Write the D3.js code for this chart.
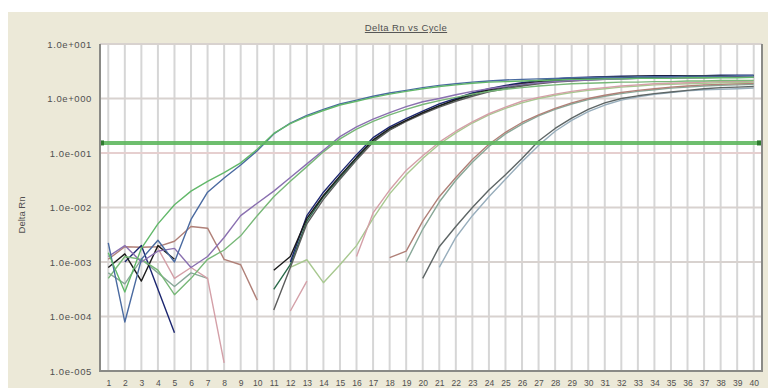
<html>
    <head>
        <script src="https://d3js.org/d3.v7.min.js"></script>
        <style>
        body {
            margin: 0;
            background: #ffffff;
        }
        text {
            font-family: "Liberation Sans", Arial, sans-serif;
            fill: #505050;
        }
        </style>
    </head>
    <body>
        <svg id="chart" width="768" height="388"></svg>
        <script>
            // cycle numbers on the x axis
            const cycles = [1, 2, 3, 4, 5, 6, 7, 8, 9, 10,
                11, 12, 13, 14, 15, 16, 17, 18, 19, 20,
                21, 22, 23, 24, 25, 26, 27, 28, 29, 30,
                31, 32, 33, 34, 35, 36, 37, 38, 39, 40];

            const yTicks = [1e1, 1e0, 1e-1, 1e-2, 1e-3, 1e-4, 1e-5];
            const yTickLabels = ["1.0e+001", "1.0e+000", "1.0e-001", "1.0e-002", "1.0e-003", "1.0e-004", "1.0e-005"];

            const threshold = 0.153;

            // Delta Rn per cycle, null where nothing is drawn
            const green1 = [1.48e-3, 2.82e-4, 1.78e-3, 5.0e-3, 1.12e-2, 2.0e-2, 3.02e-2, 4.37e-2, 6.6e-2, 0.117,
                0.229, 0.347, 0.468, 0.603, 0.759, 0.891, 1.05, 1.20, 1.35, 1.51,
                1.66, 1.78, 1.91, 2.00, 2.04, 2.09, 2.14, 2.19, 2.24, 2.24,
                2.29, 2.29, 2.34, 2.34, 2.34, 2.40, 2.40, 2.40, 2.40, 2.45];
            const blue1 = [2.24e-3, 7.94e-5, 1.12e-3, 2.51e-3, 1.0e-3, 6.03e-3, 1.91e-2, 3.47e-2, 6.03e-2, 0.110,
                0.224, 0.355, 0.490, 0.631, 0.794, 0.933, 1.10, 1.26, 1.41, 1.58,
                1.74, 1.86, 2.00, 2.09, 2.19, 2.24, 2.29, 2.34, 2.40, 2.40,
                2.45, 2.45, 2.51, 2.51, 2.51, 2.57, 2.57, 2.57, 2.63, 2.63];
            const purple2 = [1.26e-3, 2.0e-3, 1.0e-3, 1.58e-3, 1.78e-3, 7.94e-4, 1.26e-3, 2.82e-3, 7.08e-3, 1.20e-2,
                2.0e-2, 3.55e-2, 6.31e-2, 0.112, 0.200, 0.302, 0.417, 0.550, 0.708, 0.871,
                1.00, 1.17, 1.35, 1.51, 1.66, 1.82, 1.95, 2.04, 2.14, 2.19,
                2.24, 2.29, 2.34, 2.34, 2.40, 2.40, 2.45, 2.45, 2.45, 2.51];
            const green2 = [5.01e-4, 1.26e-3, 1.12e-3, 7.08e-4, 2.51e-4, 5.01e-4, 1.12e-3, 1.66e-3, 3.02e-3, 7.08e-3,
                1.58e-2, 3.02e-2, 5.62e-2, 0.105, 0.182, 0.275, 0.380, 0.501, 0.631, 0.776,
                0.912, 1.05, 1.20, 1.35, 1.48, 1.58, 1.70, 1.78, 1.86, 1.91,
                1.95, 2.00, 2.00, 2.04, 2.04, 2.09, 2.09, 2.14, 2.14, 2.14];
            const black3 = [7.94e-4, 1.41e-3, 4.47e-4, 2.0e-3, 1.12e-3, null, null, null, null, null,
                7.08e-4, 1.26e-3, 6.31e-3, 1.66e-2, 3.80e-2, 8.32e-2, 0.174, 0.282, 0.398, 0.550,
                0.741, 0.955, 1.20, 1.45, 1.66, 1.86, 2.04, 2.19, 2.29, 2.40,
                2.45, 2.51, 2.57, 2.57, 2.57, 2.63, 2.63, 2.63, 2.63, 2.63];
            const grey3 = [null, null, null, null, null, null, null, null, null, null,
                1.32e-4, 7.94e-4, 5.01e-3, 1.41e-2, 3.31e-2, 7.41e-2, 0.158, 0.263, 0.380, 0.525,
                0.692, 0.891, 1.10, 1.32, 1.51, 1.70, 1.86, 2.00, 2.09, 2.19,
                2.24, 2.29, 2.34, 2.34, 2.40, 2.40, 2.40, 2.45, 2.45, 2.45];
            const navy3 = [null, 1.0e-3, 2.0e-3, 3.16e-4, 5.01e-5, null, null, null, null, null,
                null, 1.0e-3, 7.08e-3, 1.91e-2, 4.27e-2, 9.33e-2, 0.191, 0.302, 0.427, 0.589,
                0.794, 1.00, 1.26, 1.51, 1.74, 1.95, 2.14, 2.29, 2.40, 2.45,
                2.51, 2.57, 2.57, 2.63, 2.63, 2.63, 2.63, 2.69, 2.69, 2.69];
            const darkGreen3 = [null, null, null, null, null, null, null, null, null, null,
                3.16e-4, 8.91e-4, 5.62e-3, 1.58e-2, 3.55e-2, 7.94e-2, 0.166, 0.269, 0.389, 0.537,
                0.724, 0.933, 1.15, 1.38, 1.58, 1.78, 1.95, 2.09, 2.19, 2.29,
                2.34, 2.40, 2.40, 2.45, 2.45, 2.51, 2.51, 2.51, 2.51, 2.57];
            const pink4 = [null, null, null, 1.78e-3, 5.01e-4, 7.94e-4, 5.01e-4, 1.41e-5, null, null,
                null, 1.26e-4, 4.47e-4, null, null, 1.26e-3, 7.94e-3, 2.09e-2, 4.79e-2, 8.91e-2,
                0.158, 0.251, 0.372, 0.525, 0.692, 0.891, 1.05, 1.20, 1.35, 1.48,
                1.58, 1.70, 1.78, 1.86, 1.91, 1.95, 2.00, 2.04, 2.04, 2.09];
            const green4 = [null, null, null, null, null, null, null, null, null, null,
                null, 7.94e-4, 1.10e-3, 4.17e-4, 8.91e-4, 2.0e-3, 6.31e-3, 1.78e-2, 3.98e-2, 7.94e-2,
                0.145, 0.234, 0.355, 0.501, 0.661, 0.832, 1.00, 1.15, 1.29, 1.41,
                1.51, 1.62, 1.70, 1.78, 1.82, 1.86, 1.91, 1.95, 1.95, 2.00];
            const brown5 = [1.12e-3, 1.91e-3, 1.86e-3, 1.91e-3, 2.40e-3, 4.47e-3, 4.17e-3, 1.12e-3, 8.91e-4, 2.0e-4,
                null, null, null, null, null, null, null, 1.20e-3, 1.58e-3, 5.62e-3,
                1.58e-2, 3.55e-2, 7.59e-2, 0.145, 0.240, 0.363, 0.501, 0.661, 0.832, 1.00,
                1.15, 1.29, 1.41, 1.51, 1.62, 1.70, 1.78, 1.82, 1.86, 1.91];
            const greyGreen5 = [6.31e-4, 3.98e-4, 1.12e-3, 6.31e-4, 3.55e-4, 6.31e-4, 5.01e-4, null, null, null,
                null, null, null, null, null, null, null, null, 1.0e-3, 3.98e-3,
                1.26e-2, 3.16e-2, 6.76e-2, 0.132, 0.224, 0.339, 0.479, 0.631, 0.794, 0.955,
                1.10, 1.23, 1.35, 1.45, 1.55, 1.62, 1.70, 1.74, 1.78, 1.82];
            const darkGrey6 = [null, null, null, null, null, null, null, null, null, null,
                null, null, null, null, null, null, null, null, null, 5.01e-4,
                1.91e-3, 4.47e-3, 1.0e-2, 2.09e-2, 3.98e-2, 7.94e-2, 0.166, 0.282, 0.437, 0.631,
                0.832, 1.00, 1.12, 1.23, 1.32, 1.41, 1.51, 1.58, 1.62, 1.66];
            const blueGrey6 = [null, null, null, null, null, null, null, null, null, null,
                null, null, null, null, null, null, null, null, null, null,
                7.94e-4, 2.82e-3, 7.08e-3, 1.58e-2, 3.31e-2, 6.92e-2, 0.138, 0.251, 0.398, 0.575,
                0.759, 0.933, 1.07, 1.20, 1.29, 1.38, 1.45, 1.48, 1.51, 1.55];

            const series = [blueGrey6, darkGrey6, greyGreen5, brown5, green4, pink4,
                darkGreen3, grey3, navy3, black3, green2, purple2, blue1, green1];
            const colors = ["#98aebc", "#5e6666", "#88a898", "#b08078", "#a8c890", "#d4a0a8",
                "#2a6a4a", "#5c5c5c", "#1c2670", "#1a1a1a", "#78b878", "#8a70b0", "#4a6aa0", "#62b86a"];

            const svg = d3.select('svg#chart');
            const width = +svg.attr('width');
            const height = +svg.attr('height');
            const plot = {left: 100, right: 762, top: 44, bottom: 371};

            // beige panel behind everything
            svg.append('rect')
                .attr('x', 8).attr('y', 12)
                .attr('width', width - 8).attr('height', height - 12)
                .attr('fill', '#ece9d8');

            svg.append('rect')
                .attr('x', plot.left).attr('y', plot.top)
                .attr('width', plot.right - plot.left).attr('height', plot.bottom - plot.top)
                .attr('fill', '#ffffff');

            const xScale = d3.scaleLinear().domain([0.5, 40.5]).range([plot.left, plot.right]);
            const yScale = d3.scaleLog().domain([1e-5, 1e1]).range([plot.bottom, plot.top]);

            // grid
            svg.append('g').selectAll('line')
                .data(cycles)
                .join('line')
                .attr('x1', d => xScale(d)).attr('x2', d => xScale(d))
                .attr('y1', plot.top).attr('y2', plot.bottom)
                .attr('stroke', '#d6d6d6')
                .attr('stroke-width', 2);

            svg.append('g').selectAll('line')
                .data(yTicks)
                .join('line')
                .attr('x1', plot.left).attr('x2', plot.right)
                .attr('y1', d => yScale(d)).attr('y2', d => yScale(d))
                .attr('stroke', d => d === 1e-1 ? '#e6cfcf' : '#d8d2cf')
                .attr('stroke-width', 2);

            svg.append('clipPath').attr('id', 'clip')
                .append('rect')
                .attr('x', plot.left).attr('y', plot.top)
                .attr('width', plot.right - plot.left).attr('height', plot.bottom - plot.top);

            const line = d3.line()
                .defined(d => d != null)
                .x((d, i) => xScale(cycles[i]))
                .y(d => yScale(d));

            const chartArea = svg.append('g').attr('clip-path', 'url(#clip)');

            series.forEach((s, i) => {
                chartArea.append('path')
                    .attr('d', line(s))
                    .attr('fill', 'none')
                    .attr('stroke', colors[i])
                    .attr('stroke-width', 1.4)
                    .attr('stroke-linejoin', 'round');
            });

            // threshold line
            svg.append('line')
                .attr('x1', plot.left).attr('x2', plot.right)
                .attr('y1', yScale(threshold)).attr('y2', yScale(threshold))
                .attr('stroke', '#5fb85f')
                .attr('stroke-width', 4)
                .attr('opacity', 0.9);
            [plot.left + 2, plot.right - 3].forEach(x => {
                svg.append('rect')
                    .attr('x', x - 2).attr('y', yScale(threshold) - 2.5)
                    .attr('width', 4).attr('height', 5)
                    .attr('fill', '#2f7a2f');
            });

            // frame
            svg.append('path')
                .attr('d', `M${plot.left},${plot.top}V${plot.bottom}H${plot.right}V${plot.top}`)
                .attr('fill', 'none')
                .attr('stroke', '#8a8a86')
                .attr('stroke-width', 2);

            // axes
            let leftAxis = d3.axisLeft(yScale)
                .tickValues(yTicks)
                .tickSize(0)
                .tickPadding(8)
                .tickFormat((d, i) => yTickLabels[i]);
            let yAxis = svg.append('g')
                .attr('transform', `translate(${plot.left},0)`)
                .call(leftAxis);
            yAxis.select('.domain').remove();
            yAxis.selectAll('text')
                .style('font-size', '9.5px')
                .style('letter-spacing', '0.6px')
                .attr('fill', '#555');

            let bottomAxis = d3.axisBottom(xScale)
                .tickValues(cycles)
                .tickSize(0)
                .tickPadding(9)
                .tickFormat(d => d);
            let xAxis = svg.append('g')
                .attr('transform', `translate(0,${plot.bottom})`)
                .call(bottomAxis);
            xAxis.select('.domain').remove();
            xAxis.selectAll('text')
                .style('font-size', '8.5px')
                .attr('fill', '#555');

            svg.append('text')
                .attr('x', 406).attr('y', 31)
                .attr('text-anchor', 'middle')
                .style('font-size', '9.5px')
                .style('text-decoration', 'underline')
                .style('letter-spacing', '0.4px')
                .text('Delta Rn vs Cycle');

            svg.append('text')
                .attr('transform', 'translate(25,215) rotate(-90)')
                .attr('text-anchor', 'middle')
                .style('font-size', '9.5px')
                .text('Delta Rn');
        </script>
    </body>
</html>
